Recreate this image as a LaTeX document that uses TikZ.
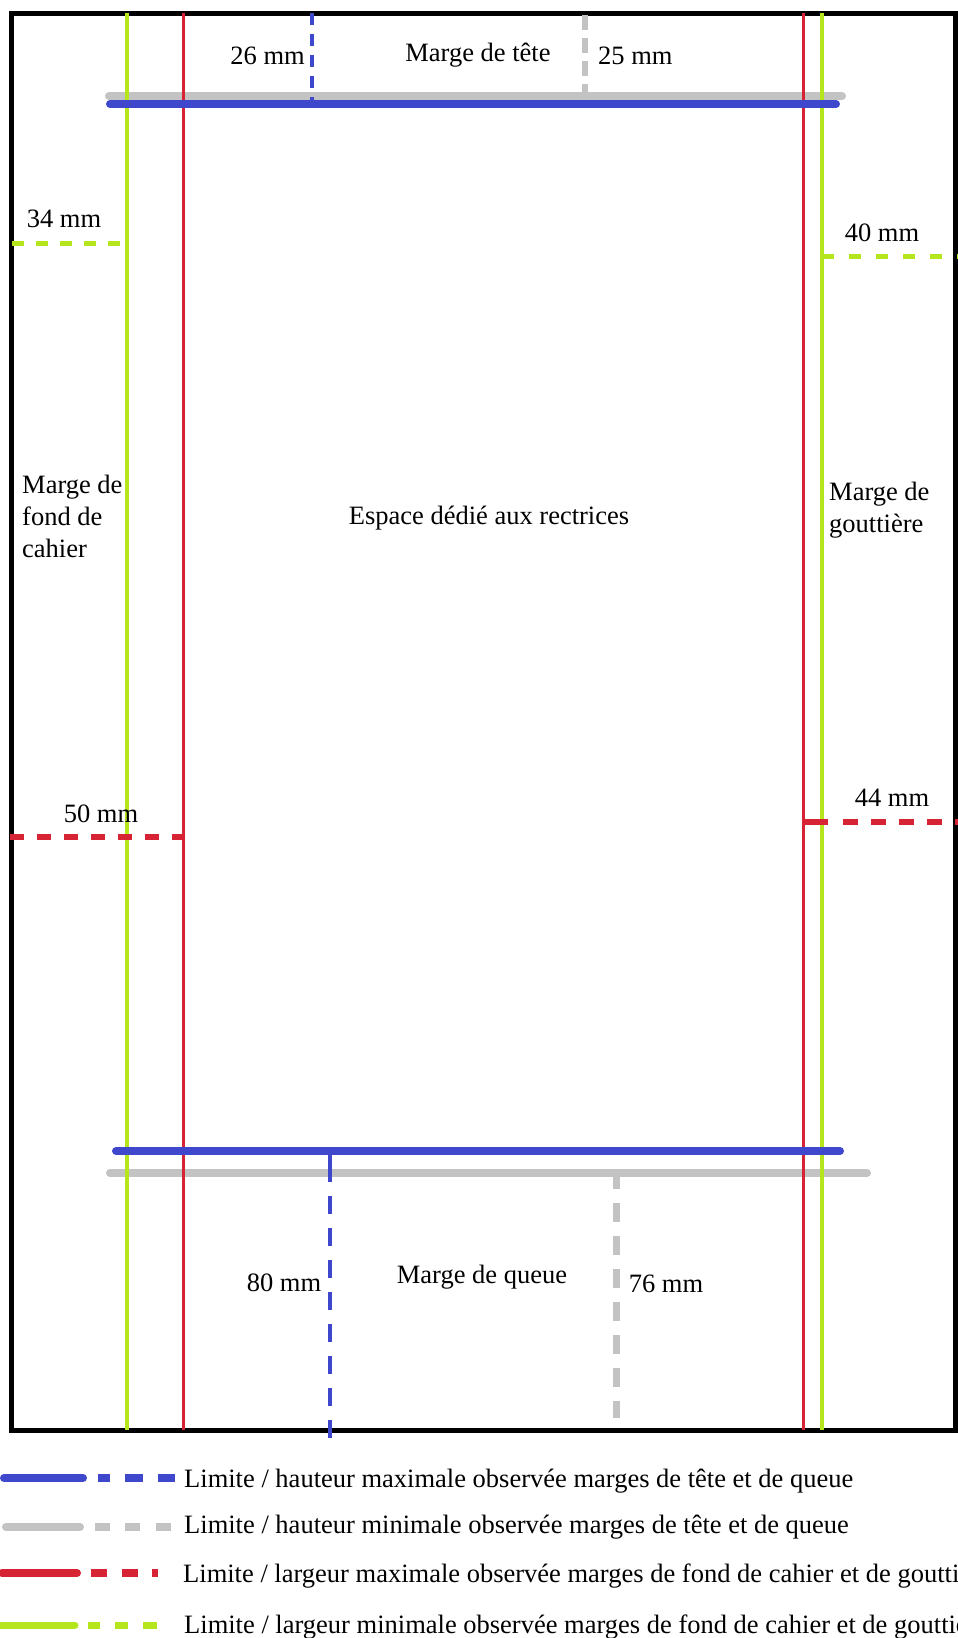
\documentclass[tikz,border=0pt]{standalone}
\usepackage{fontspec}
\setmainfont{Liberation Serif}
\definecolor{cblue}{RGB}{63,72,204}
\definecolor{cgrey}{RGB}{195,195,195}
\definecolor{cred}{RGB}{214,36,52}
\definecolor{cgreen}{RGB}{181,230,29}
\begin{document}
\begin{tikzpicture}[x=1pt,y=-1pt,
  every node/.style={inner sep=0pt, font=\fontsize{26.5}{32}\selectfont},
  lbl/.style={anchor=base},
  frameline/.style={black, line width=5pt},
  maxline/.style={cblue, line width=8pt, line cap=round},
  minline/.style={cgrey, line width=8pt, line cap=round},
  redv/.style={cred, line width=3pt},
  greenv/.style={cgreen, line width=3.5pt},
  legsolid/.style={line width=8pt, line cap=round},
  legdash/.style={line width=8pt}]
\useasboundingbox (0,0) rectangle (958,1638);
\clip (0,0) rectangle (958,1638);
\fill[white] (0,0) rectangle (958,1638);

% page frame
\draw[frameline] (11,13) rectangle (955,1430);

% named coordinates
\coordinate (gLt) at (127,13);  \coordinate (gLb) at (127,1430);
\coordinate (rLt) at (183,13);  \coordinate (rLb) at (183,1430);
\coordinate (rRt) at (803,13);  \coordinate (rRb) at (803,1430);
\coordinate (gRt) at (822,13);  \coordinate (gRb) at (822,1430);
\coordinate (gTopA) at (109,96);  \coordinate (gTopB) at (842,96);
\coordinate (bTopA) at (110,104); \coordinate (bTopB) at (836,104);
\coordinate (bBotA) at (116,1151); \coordinate (bBotB) at (840,1151);
\coordinate (gBotA) at (110,1173); \coordinate (gBotB) at (867,1173);

% grey horizontals
\draw[minline] (gTopA) -- (gTopB);
\draw[minline] (gBotA) -- (gBotB);

% verticals
\draw[greenv] (gLt) -- (gLb);
\draw[redv] (rLt) -- (rLb);
\draw[redv] (rRt) -- (rRb);
\draw[greenv] (gRt) -- (gRb);

% blue horizontals
\draw[maxline] (bTopA) -- (bTopB);
\draw[maxline] (bBotA) -- (bBotB);

% top dashed verticals
\coordinate (bdT1) at (312,13); \coordinate (bdT2) at (312,100);
\draw[cblue, line width=3.5pt, dash pattern=on 12pt off 9pt] (bdT1) -- (bdT2);
\coordinate (gdT1) at (585,15); \coordinate (gdT2) at (585,94);
\draw[cgrey, line width=6.5pt, dash pattern=on 15pt off 8pt] (gdT1) -- (gdT2);

% bottom dashed verticals
\coordinate (bdB0) at (330,1151); \coordinate (bdB1) at (330,1182);
\coordinate (bdB2) at (330,1196); \coordinate (bdB3) at (330,1440);
\draw[cblue, line width=4pt] (bdB0) -- (bdB1);
\draw[cblue, line width=4pt, dash pattern=on 18pt off 14pt] (bdB2) -- (bdB3);
\coordinate (gdB1) at (616,1170); \coordinate (gdB2) at (616,1418);
\draw[cgrey, line width=7pt, dash pattern=on 19pt off 14pt] (gdB1) -- (gdB2);

% horizontal dashed measures
\coordinate (gdL1) at (12,243); \coordinate (gdL2) at (127,243);
\draw[cgreen, line width=5pt, dash pattern=on 12pt off 12pt] (gdL1) -- (gdL2);
\coordinate (gdR1) at (822,256); \coordinate (gdR2) at (958,256);
\draw[cgreen, line width=5pt, dash pattern=on 12pt off 15pt] (gdR1) -- (gdR2);
\coordinate (rdL1) at (10,837); \coordinate (rdL2) at (183,837);
\draw[cred, line width=5.5pt, dash pattern=on 14pt off 13pt] (rdL1) -- (rdL2);
\coordinate (rdR0) at (803,822); \coordinate (rdR1) at (828,822);
\coordinate (rdR2) at (843,822); \coordinate (rdR3) at (958,822);
\draw[cred, line width=5.5pt] (rdR0) -- (rdR1);
\draw[cred, line width=5.5pt, dash pattern=on 15pt off 13pt] (rdR2) -- (rdR3);

% labels
\node[lbl, anchor=base east] (t26) at (305,64) {26 mm};
\node[lbl] (tete) at (478,61) {Marge de tête};
\node[lbl, anchor=base west] (t25) at (598,64) {25 mm};
\node[lbl] (t34) at (64,227) {34 mm};
\node[lbl] (t40) at (882,241) {40 mm};
\node[lbl] (t50) at (101,822) {50 mm};
\node[lbl] (t44) at (892,806) {44 mm};
\node[lbl] (t80) at (284,1291) {80 mm};
\node[lbl] (queue) at (482,1283) {Marge de queue};
\node[lbl] (t76) at (666,1292) {76 mm};
\node[lbl] (espace) at (489,524) {Espace dédié aux rectrices};
\node[lbl, anchor=base west] (fondA) at (22,493) {Marge de};
\node[lbl, anchor=base west] (fondB) at (22,525) {fond de};
\node[lbl, anchor=base west] (fondC) at (22,557) {cahier};
\node[lbl, anchor=base west] (goutA) at (829,500) {Marge de};
\node[lbl, anchor=base west] (goutB) at (829,532) {gouttière};

% legend
\draw[legsolid, cblue] (4,1478) -- (83,1478);
\foreach \a/\b in {98/110,125/143,158/175} \draw[legdash, cblue] (\a,1478) -- (\b,1478);
\node[lbl, anchor=base west] (leg1) at (184,1487) {Limite / hauteur maximale observée marges de tête et de queue};

\draw[legsolid, cgrey] (6,1527) -- (80,1527);
\foreach \a/\b in {95/110,125/140,156/171} \draw[legdash, cgrey] (\a,1527) -- (\b,1527);
\node[lbl, anchor=base west] (leg2) at (184,1533) {Limite / hauteur minimale observée marges de tête et de queue};

\draw[legsolid, cred] (2,1573) -- (77,1573);
\foreach \a/\b in {91/107,122/138,152/158} \draw[legdash, cred] (\a,1573) -- (\b,1573);
\node[lbl, anchor=base west] (leg3) at (183,1582) {Limite / largeur maximale observée marges de fond de cahier et de gouttière};

\draw[legsolid, cgreen, line width=7pt] (0,1625) -- (75,1625);
\foreach \a/\b in {88/100,115/128,143/157} \draw[legdash, cgreen, line width=7pt] (\a,1625) -- (\b,1625);
\node[lbl, anchor=base west] (leg4) at (184,1633) {Limite / largeur minimale observée marges de fond de cahier et de gouttière};
\end{tikzpicture}
\end{document}
